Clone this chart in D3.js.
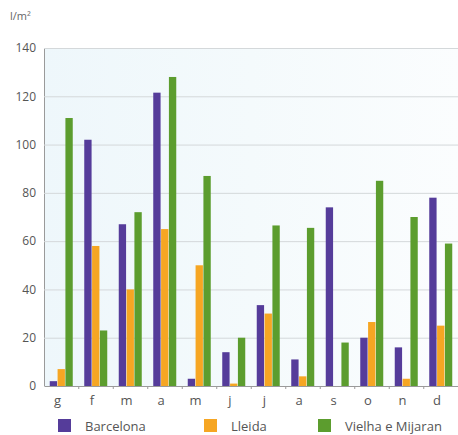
<!DOCTYPE html>
<html><head><meta charset="utf-8">
<script src="https://cdn.jsdelivr.net/npm/d3@7"></script>
<style>body{margin:0;background:#fff;}svg{display:block;}</style>
</head><body>
<svg id="c" width="458" height="435"></svg>
<script>
const months = ["g","f","m","a","m","j","j","a","s","o","n","d"];
const seriesNames = ["Barcelona","Lleida","Vielha e Mijaran"];
const barcelona = [2,102,67,121.5,3,14,33.5,11,74,20,16,78];
const lleida = [7,58,40,65,50,1,30,4,0,26.5,3,25];
const vielha = [111,23,72,128,87,20,66.5,65.5,18,85,70,59];
const yTicks = [0,20,40,60,80,100,120,140];
const colors = ["#553c9a","#f6a623","#5c9d2e"];

const svg = d3.select("#c");
const font = "'Open Sans', sans-serif";
const y = d3.scaleLinear().domain([0,140]).range([386,48]);
const x = d3.scaleBand().domain(d3.range(months.length)).range([44.25,458.25]).paddingInner(0).paddingOuter(0);
const xi = d3.scaleBand().domain(d3.range(3)).range([0,23.5]).padding(0);
const inner = x.bandwidth();
const offset = (inner-23.5)/2;

// background
const defs = svg.append("defs");
const grad = defs.append("linearGradient").attr("id","bg").attr("x1","0").attr("y1","0").attr("x2","1").attr("y2","0");
grad.append("stop").attr("offset","0").attr("stop-color","#eef7fb");
grad.append("stop").attr("offset","0.5").attr("stop-color","#f4fafc");
grad.append("stop").attr("offset","1").attr("stop-color","#fbfdfe");
svg.append("rect").attr("x",44).attr("y",48).attr("width",414).attr("height",338).attr("fill","url(#bg)");

// grid
const yAxis = d3.axisLeft(y).tickValues(yTicks).tickSize(-414).tickPadding(8);
const gy = svg.append("g").attr("transform","translate(44,0)").call(yAxis);
gy.select(".domain").attr("stroke","#9a9a9a");
gy.selectAll(".tick line").attr("stroke","#d4d8da").attr("stroke-width",1);
gy.selectAll(".tick text").attr("font-family",font).attr("font-size",12).attr("fill","#555");

// bars
const data = [barcelona,lleida,vielha];
data.forEach((vals,si)=>{
  svg.append("g").selectAll("rect").data(vals).join("rect")
    .attr("x",(d,i)=>x(i)+offset+xi(si))
    .attr("y",d=>y(d))
    .attr("width",xi.bandwidth()-0.5)
    .attr("height",d=>y(0)-y(d))
    .attr("fill",colors[si]);
});

// x axis
const xAxis = d3.axisBottom(x).tickFormat(i=>months[i]).tickSize(0).tickPadding(10);
const gx = svg.append("g").attr("transform","translate(0,386)").call(xAxis);
gx.select(".domain").attr("stroke","#9a9a9a");
gx.selectAll(".tick text").attr("font-family",font).attr("font-size",13).attr("fill","#555").attr("dx",-4);
// small ticks between groups
svg.append("g").selectAll("line").data(d3.range(1,months.length)).join("line")
  .attr("x1",i=>x(i)).attr("x2",i=>x(i)).attr("y1",386).attr("y2",389)
  .attr("stroke","#9a9a9a");

// unit
svg.append("text").attr("x",10).attr("y",20).attr("font-family",font).attr("font-size",11).attr("fill","#666").text("l/m²");

// legend
const legX = [58,204,318];
const lg = svg.append("g");
seriesNames.forEach((n,i)=>{
  lg.append("rect").attr("x",legX[i]).attr("y",419).attr("width",13).attr("height",13).attr("fill",colors[i]);
  lg.append("text").attr("x",legX[i]+27).attr("y",431).attr("font-family",font).attr("font-size",13).attr("fill","#555").text(n);
});
</script>
</body></html>
